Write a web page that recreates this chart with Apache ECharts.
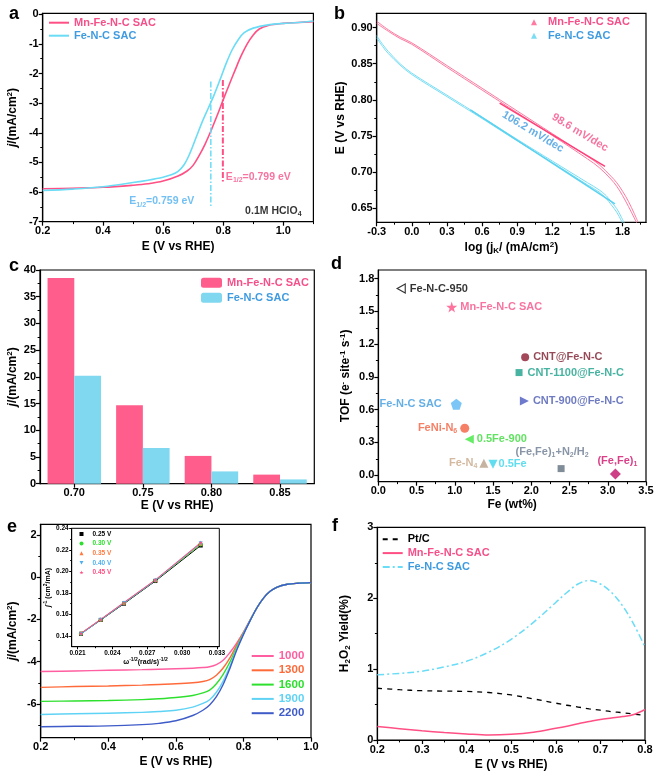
<!DOCTYPE html>
<html><head><meta charset="utf-8">
<script src="https://cdn.jsdelivr.net/npm/echarts@6.0.0/dist/echarts.min.js"></script>
<style>html,body{margin:0;padding:0;background:#fff}#c{width:661px;height:773px}</style>
</head><body><div id="c"></div>
<script>
// ================= DATA =================
// (a) LSV
const aEMn = [0.2,0.3,0.4,0.5,0.55,0.6,0.65,0.68,0.7,0.72,0.74,0.76,0.78,0.8,0.82,0.84,0.86,0.88,0.9,0.92,0.95,1.0,1.05,1.1];
const aMn  = [-5.89,-5.87,-5.84,-5.77,-5.72,-5.63,-5.46,-5.29,-5.1,-4.77,-4.38,-3.92,-3.42,-2.89,-2.38,-1.88,-1.4,-1.0,-0.7,-0.5,-0.38,-0.31,-0.28,-0.25];
const aEFe = [0.2,0.3,0.4,0.5,0.55,0.6,0.63,0.65,0.67,0.69,0.71,0.73,0.75,0.77,0.79,0.81,0.83,0.85,0.87,0.9,0.95,1.0,1.05,1.1];
const aFe  = [-5.95,-5.9,-5.82,-5.68,-5.6,-5.5,-5.41,-5.3,-5.08,-4.68,-4.16,-3.64,-3.18,-2.72,-2.2,-1.66,-1.2,-0.86,-0.62,-0.47,-0.36,-0.31,-0.28,-0.23];
const aYTicks = [-7,-6,-5,-4,-3,-2,-1,0];
const aHalfE   = [0.759, 0.799];
const aHalfTop = [-2.27, -2.22];
const aHalfBot = [-6.49, -5.68];
const aNoteX = [0.809, 0.488, 0.873];
const aNoteY = [-5.48, -6.32, -6.63];
const aNoteText = ['E{s|1/2}=0.799 eV', 'E{s|1/2}=0.759 eV', '0.1M HClO{s|4}'];
// (b) Tafel
const bLogMn = [-0.3,-0.2,-0.1,0,0.3,0.6,0.9,1.2,1.5,1.6,1.7,1.75,1.8,1.85,1.9,1.93];
const bEMnA  = [0.909,0.897,0.887,0.879,0.8475,0.816,0.7845,0.753,0.7215,0.710,0.694,0.685,0.673,0.659,0.642,0.631];
const bEMnB  = [0.906,0.895,0.885,0.877,0.845,0.8135,0.782,0.7505,0.718,0.706,0.690,0.680,0.667,0.652,0.636,0.626];
const bLogFe = [-0.3,-0.25,-0.2,-0.1,0,0.3,0.6,0.9,1.2,1.5,1.6,1.66,1.7,1.75,1.79,1.82];
const bEFeA  = [0.889,0.877,0.867,0.850,0.837,0.8064,0.776,0.745,0.715,0.685,0.675,0.667,0.659,0.649,0.637,0.627];
const bEFeB  = [0.886,0.874,0.864,0.848,0.835,0.8044,0.774,0.743,0.713,0.682,0.672,0.663,0.655,0.644,0.632,0.622];
const bFitMnX = [0.75, 1.65], bFitMnY = [0.7955, 0.7077];
const bFitFeX = [0.5, 1.735], bFitFeY = [0.786, 0.6555];
const bNoteX = [1.436, 1.035], bNoteY = [0.7545, 0.7555], bNoteText = ['98.6 mV/dec', '106.2 mV/dec'];
// (c) bars
const cE  = ['0.70','0.75','0.80','0.85'];
const cMn = [38.5, 14.7, 5.2, 1.7];
const cFe = [20.2, 6.7, 2.3, 0.8];
// (d) TOF
const dNames = ['Fe-N-C-950','Mn-Fe-N-C SAC','CNT@Fe-N-C','CNT-1100@Fe-N-C','CNT-900@Fe-N-C','Fe-N-C SAC','FeNi-N6','0.5Fe-900','Fe-N4','0.5Fe','(Fe,Fe)1+N2/H2','(Fe,Fe)1'];
const dLabels = ['Fe-N-C-950','Mn-Fe-N-C SAC','CNT@Fe-N-C','CNT-1100@Fe-N-C','CNT-900@Fe-N-C','Fe-N-C SAC','FeNi-N{s|6}','0.5Fe-900','Fe-N{s|4}','0.5Fe','(Fe,Fe){s|1}+N{s|2}/H{s|2}','(Fe,Fe){s|1}'];
const dFe  = [0.30, 0.96, 1.92, 1.84, 1.91, 1.02, 1.13, 1.19, 1.38, 1.50, 2.39, 3.10];
const dTOF = [1.71, 1.54, 1.08, 0.94, 0.68, 0.65, 0.43, 0.33, 0.11, 0.10, 0.06, 0.01];
// (e) RDE
const eE = [0.2,0.3,0.4,0.5,0.55,0.6,0.65,0.68,0.7,0.72,0.74,0.76,0.78,0.8,0.82,0.84,0.86,0.88,0.9,0.93,0.96,1.0];
const eRpm = ['1000','1300','1600','1900','2200'];
const eJ1000 = [-4.47,-4.44,-4.41,-4.38,-4.36,-4.34,-4.31,-4.28,-4.24,-4.14,-3.93,-3.57,-3.12,-2.6,-2.02,-1.45,-0.98,-0.66,-0.47,-0.34,-0.29,-0.26];
const eJ1300 = [-5.22,-5.18,-5.15,-5.11,-5.08,-5.05,-5.0,-4.94,-4.85,-4.64,-4.3,-3.82,-3.22,-2.63,-2.03,-1.45,-0.98,-0.66,-0.47,-0.34,-0.29,-0.26];
const eJ1600 = [-5.88,-5.86,-5.84,-5.8,-5.76,-5.7,-5.6,-5.48,-5.35,-5.05,-4.6,-4.02,-3.32,-2.66,-2.04,-1.45,-0.98,-0.66,-0.47,-0.34,-0.29,-0.26];
const eJ1900 = [-6.5,-6.47,-6.44,-6.4,-6.36,-6.3,-6.15,-5.98,-5.8,-5.45,-4.92,-4.22,-3.4,-2.69,-2.05,-1.45,-0.98,-0.66,-0.47,-0.34,-0.29,-0.26];
const eJ2200 = [-7.08,-7.06,-7.04,-6.98,-6.92,-6.8,-6.55,-6.3,-6.05,-5.66,-5.08,-4.32,-3.46,-2.72,-2.06,-1.45,-0.98,-0.66,-0.47,-0.34,-0.29,-0.26];
// (e inset) K-L
const kW = [0.0213, 0.0230, 0.0250, 0.0277, 0.0316];
const kV = ['0.25 V','0.30 V','0.35 V','0.40 V','0.45 V'];
const kJ025 = [0.1420, 0.1548, 0.1700, 0.1910, 0.2240];
const kJ030 = [0.1423, 0.1551, 0.1705, 0.1915, 0.2250];
const kJ035 = [0.1424, 0.1553, 0.1708, 0.1918, 0.2258];
const kJ040 = [0.1418, 0.1550, 0.1706, 0.1916, 0.2262];
const kJ045 = [0.1425, 0.1555, 0.1712, 0.1922, 0.2268];
// (f) H2O2 yield
const fE   = [0.2,0.25,0.3,0.35,0.4,0.45,0.5,0.55,0.6,0.625,0.65,0.675,0.7,0.725,0.75,0.775,0.8];
const fPt  = [0.73,0.71,0.695,0.69,0.685,0.67,0.635,0.58,0.52,0.49,0.465,0.44,0.42,0.40,0.385,0.365,0.345];
const fMn  = [0.19,0.16,0.13,0.105,0.085,0.07,0.08,0.11,0.165,0.195,0.23,0.26,0.29,0.31,0.33,0.36,0.43];
const fFe  = [0.92,0.94,0.97,1.03,1.11,1.24,1.42,1.66,1.94,2.08,2.2,2.25,2.2,2.08,1.89,1.63,1.31];

// ================= STYLE =================
const FONT = '"Liberation Sans", Arial, sans-serif';
const PINK = '#FF4F84', CYAN = '#6ADCF5', MN_TXT = '#F5508A', FE_TXT = '#3F9BE0';
const BAR_PINK = '#FF5E8C', BAR_CYAN = '#7FD8F0';
const E_COL = ['#FF5EA0','#FF6A3A','#2EE02E','#5FD3F5','#3F5BC8'];
const K_COL = ['#000000','#2EE02E','#FF7A40','#4FB0F0','#FF4F84'];
const K_SYM = ['rect','circle','triangle','path://M0,0 L10,0 L5,9 Z','path://M50,0 L61,35 L98,35 L68,57 L79,91 L50,70 L21,91 L32,57 L2,35 L39,35 Z'];
const STAR = 'path://M50,0 L61,35 L98,35 L68,57 L79,91 L50,70 L21,91 L32,57 L2,35 L39,35 Z';
const PENT = 'path://M50,0 L98,35 L79,91 L21,91 L2,35 Z';
const LTRI = 'path://M10,0 L0,5 L10,10 Z';
const dStyle = {
  'Fe-N-C-950':      {sym:LTRI, size:[8,9], color:'#fff', border:'#000', txt:'#000', pos:'right', dist:4},
  'Mn-Fe-N-C SAC':   {sym:STAR, size:11, color:'#FF4F84', txt:'#F5508A', pos:'right', dist:3},
  'CNT@Fe-N-C':      {sym:'circle', size:8, color:'#8C1C30', txt:'#7A1A2A', pos:'right', dist:4},
  'CNT-1100@Fe-N-C': {sym:'rect', size:7, color:'#1AA08A', txt:'#1AA08A', pos:'right', dist:5},
  'CNT-900@Fe-N-C':  {sym:'triangle', size:9, rot:-90, color:'#4A5AC0', txt:'#4A5AB0', pos:'right', dist:4},
  'Fe-N-C SAC':      {sym:PENT, size:11, color:'#5AB8F5', txt:'#3F9BE0', pos:'left', dist:9},
  'FeNi-N6':         {sym:'circle', size:9, color:'#F26040', txt:'#F26040', pos:'left', dist:3},
  '0.5Fe-900':       {sym:'triangle', size:9, rot:90, color:'#3EE83E', txt:'#3ADB3A', pos:'right', dist:3},
  'Fe-N4':           {sym:'triangle', size:9, color:'#B8A088', txt:'#C8A888', pos:'left', dist:2},
  '0.5Fe':           {sym:'triangle', size:9, rot:180, color:'#38D4EA', txt:'#38D4EA', pos:'right', dist:1},
  '(Fe,Fe)1+N2/H2':  {sym:'rect', size:7, color:'#607080', txt:'#6A7A90', pos:'top', dist:7, off:[-9,0]},
  '(Fe,Fe)1':        {sym:'diamond', size:11, color:'#C0106A', txt:'#D0106A', pos:'top', dist:1, off:[2,0]}
};

function pts(xs, ys) { return xs.map((x, i) => [x, ys[i]]); }
function fmt(v, d) { let s = Number(v).toFixed(d); if (/^-0(\.0+)?$/.test(s)) s = s.slice(1); return s; }
function richFor(color, fs, sfs) {
  return {
    s:   {fontSize:sfs, fontWeight:'bold', color, verticalAlign:'bottom', lineHeight:sfs, fontFamily:FONT},
    sup: {fontSize:sfs, fontWeight:'bold', color, verticalAlign:'top', lineHeight:sfs, fontFamily:FONT},
    i:   {fontSize:fs, fontWeight:'bold', fontStyle:'italic', color, lineHeight:fs+2, fontFamily:FONT}
  };
}
const RICHN = richFor('#000', 12, 8);
const RICHS = richFor('#000', 7, 5);

const xAxes = [], yAxes = [];
function addAxis(list, pos, grid, min, max, majors, minors, dec, name, gap, o) {
  o = o || {};
  const fs = o.fs || 11, nfs = o.nfs || 12, tl = o.tl || 4, lw = o.lw || 1.2;
  list.push({
    type:'value', gridIndex:grid, min, max, position:pos,
    name, nameLocation:'middle', nameGap:gap,
    nameTextStyle:{fontSize:nfs, fontWeight:'bold', color:'#000', lineHeight:nfs+2, fontFamily:FONT, rich:o.rich || RICHN},
    axisLine:{show:true, onZero:false, lineStyle:{color:'#000', width:lw}},
    axisTick:{show:true, customValues:majors, length:tl, lineStyle:{color:'#000', width:lw}},
    axisLabel:{show:true, customValues:o.labels || majors, showMinLabel:true, showMaxLabel:true, formatter:(v) => fmt(v, dec), fontSize:fs, fontWeight:'bold', color:'#000', margin:o.margin || 4, fontFamily:FONT},
    splitLine:{show:false}
  });
  const idx = list.length - 1;
  list.push({type:'value', gridIndex:grid, min, max, position:pos,
    axisLine:{show:false, onZero:false},
    axisTick:{show:true, customValues:minors, length:tl * 0.6, lineStyle:{color:'#000', width:1}},
    axisLabel:{show:false}, splitLine:{show:false}});
  return idx;
}

const gridBoxes = [
  {left:42.7, top:13.3, width:270.7, height:208.4},
  {left:376.7, top:13.3, width:269.3, height:209},
  {left:40, top:270, width:274.3, height:213.7},
  {left:378.3, top:270, width:267.7, height:211.7},
  {left:40.7, top:524.3, width:270.3, height:213.4},
  {left:71.7, top:528.3, width:147.6, height:118.4},
  {left:377.3, top:527.3, width:267.7, height:213}
];
const grids = gridBoxes.map(g => Object.assign({show:true, borderColor:'#000', borderWidth:1.2, backgroundColor:'transparent', containLabel:false}, g));
grids[5].borderWidth = 1; grids[5].backgroundColor = '#fff';

// axes
const aYMin = -7, aYMax = 0.03;
const ax = addAxis(xAxes, 'bottom', 0, 0.2, 1.1, [0.2,0.4,0.6,0.8,1.0], [0.3,0.5,0.7,0.9,1.1], 1, 'E (V vs RHE)', 18);
const ay = addAxis(yAxes, 'left', 0, aYMin, aYMax, aYTicks, [-6.5,-5.5,-4.5,-3.5,-2.5,-1.5,-0.5], 0, '{i|j}/(mA/cm{sup|2})', 23, {labels:aYTicks.slice(0, -1)});
const bx = addAxis(xAxes, 'bottom', 1, -0.3, 2.0, [-0.3,0,0.3,0.6,0.9,1.2,1.5,1.8], [-0.15,0.15,0.45,0.75,1.05,1.35,1.65,1.95], 1, 'log (j{s|K}/ (mA/cm{sup|2})', 18);
const by = addAxis(yAxes, 'left', 1, 0.63, 0.92, [0.65,0.70,0.75,0.80,0.85,0.90], [0.675,0.725,0.775,0.825,0.875], 2, 'E (V vs RHE)', 26);
xAxes.push({type:'category', gridIndex:2, data:cE, position:'bottom',
  axisLine:{show:true, lineStyle:{color:'#000', width:1.2}},
  axisTick:{show:true, alignWithLabel:true, length:4, lineStyle:{color:'#000', width:1.2}},
  axisLabel:{fontSize:11, fontWeight:'bold', color:'#000', margin:4, fontFamily:FONT},
  name:'E (V vs RHE)', nameLocation:'middle', nameGap:15,
  nameTextStyle:{fontSize:12, fontWeight:'bold', color:'#000', fontFamily:FONT}});
const cx = xAxes.length - 1;
const cy = addAxis(yAxes, 'left', 2, 0, 40, [0,5,10,15,20,25,30,35,40], [2.5,7.5,12.5,17.5,22.5,27.5,32.5,37.5], 0, '{i|j}/(mA/cm{sup|2})', 20);
const dx = addAxis(xAxes, 'bottom', 3, 0, 3.5, [0,0.5,1,1.5,2,2.5,3,3.5], [0.25,0.75,1.25,1.75,2.25,2.75,3.25], 1, 'Fe (wt%)', 15);
const dy = addAxis(yAxes, 'left', 3, -0.06, 1.88, [0,0.3,0.6,0.9,1.2,1.5,1.8], [0.15,0.45,0.75,1.05,1.35,1.65], 1, 'TOF (e{sup|-} site{sup|-1} s{sup|-1})', 26);
const ex = addAxis(xAxes, 'bottom', 4, 0.2, 1.0, [0.2,0.4,0.6,0.8,1.0], [0.3,0.5,0.7,0.9], 1, 'E (V vs RHE)', 17);
const ey = addAxis(yAxes, 'left', 4, -7.6, 2.5, [-6,-4,-2,0,2], [-7,-5,-3,-1,1], 0, '{i|j}/(mA/cm{sup|2})', 21);
const kx = addAxis(xAxes, 'bottom', 5, 0.0205, 0.0332, [0.021,0.024,0.027,0.030,0.033], [0.0225,0.0255,0.0285,0.0315], 3, 'ω{sup|-1/2}(rad/s){sup|-1/2}', 9, {fs:6.5, nfs:7, tl:2.5, lw:1, margin:3, rich:RICHS});
const ky = addAxis(yAxes, 'left', 5, 0.13, 0.24, [0.14,0.16,0.18,0.20,0.22,0.24], [0.15,0.17,0.19,0.21,0.23], 2, '{i|j}{sup|-1} (cm{sup|2}/mA)', 19, {fs:6.5, nfs:7, tl:2.5, lw:1, margin:3, rich:RICHS});
const fx = addAxis(xAxes, 'bottom', 6, 0.2, 0.8, [0.2,0.3,0.4,0.5,0.6,0.7,0.8], [0.25,0.35,0.45,0.55,0.65,0.75], 1, 'E (V vs RHE)', 18);
const fy = addAxis(yAxes, 'left', 6, 0, 3, [0,1,2,3], [0.5,1.5,2.5], 0, 'H{s|2}O{s|2} Yield(%)', 26);

function line(name, xi, yi, data, color, width, type, extra) {
  return Object.assign({type:'line', name, xAxisIndex:xi, yAxisIndex:yi, data, symbol:'none', showSymbol:false,
    smooth:0.35, lineStyle:{color, width, type:type || 'solid'}, itemStyle:{color}, z:3}, extra || {});
}
function notes(xi, yi, xs, ys, texts, colors, fs, extraLabel) {
  return {type:'scatter', xAxisIndex:xi, yAxisIndex:yi, symbolSize:0, silent:true, z:5, clip:false,
    data: xs.map((x, i) => ({value:[x, ys[i]], label:Object.assign({show:true, position:'right', distance:0,
      formatter:texts[i], color:colors[i], fontSize:fs, fontWeight:'bold', fontFamily:FONT, lineHeight:fs+3,
      rich:richFor(colors[i], fs, Math.round(fs*0.65))}, extraLabel || {})}))};
}

const series = [];
// (a)
series.push(line('a:Mn-Fe-N-C SAC', ax, ay, pts(aEMn, aMn), PINK, 1.6));
series.push(line('a:Fe-N-C SAC', ax, ay, pts(aEFe, aFe), CYAN, 1.6));
series.push(line('a-half-fe', ax, ay, [[aHalfE[0], aHalfTop[0]], [aHalfE[0], aHalfBot[0]]], CYAN, 1.5, [6,2,1.5,2], {smooth:false}));
series.push(line('a-half-mn', ax, ay, [[aHalfE[1], aHalfTop[1]], [aHalfE[1], aHalfBot[1]]], PINK, 2, [6,2,1.5,2], {smooth:false}));
series.push(notes(ax, ay, aNoteX, aNoteY, aNoteText, [MN_TXT, '#4FB0F0', '#000'], 10.5));
// (b)
series.push(line('b:Mn-Fe-N-C SAC', bx, by, pts(bLogMn, bEMnA), '#FF7AA0', 1));
series.push(line('b-mn2', bx, by, pts(bLogMn, bEMnB), '#FF7AA0', 1));
series.push(line('b:Fe-N-C SAC', bx, by, pts(bLogFe, bEFeA), '#7ADDF3', 1));
series.push(line('b-fe2', bx, by, pts(bLogFe, bEFeB), '#7ADDF3', 1));
series.push(line('b-fitmn', bx, by, pts(bFitMnX, bFitMnY), '#FF3F78', 1.5, 'solid', {smooth:false}));
series.push(line('b-fitfe', bx, by, pts(bFitFeX, bFitFeY), '#5AD2F0', 1.5, 'solid', {smooth:false}));
series.push(notes(bx, by, bNoteX, bNoteY, bNoteText, [MN_TXT, FE_TXT], 11, {position:'inside', rotate:-31}));
// (c)
series.push({type:'bar', name:'c:Mn-Fe-N-C SAC', xAxisIndex:cx, yAxisIndex:cy, data:cMn, itemStyle:{color:BAR_PINK}, barGap:'0%', barCategoryGap:'22%'});
series.push({type:'bar', name:'c:Fe-N-C SAC', xAxisIndex:cx, yAxisIndex:cy, data:cFe, itemStyle:{color:BAR_CYAN}, barGap:'0%', barCategoryGap:'22%'});
// (d)
series.push({type:'scatter', name:'d', xAxisIndex:dx, yAxisIndex:dy, z:4,
  data: dNames.map((n, i) => {
    const s = dStyle[n];
    return {value:[dFe[i], dTOF[i]], symbol:s.sym, symbolSize:s.size, symbolRotate:s.rot || 0,
      itemStyle:{color:s.color, borderColor:s.border || s.color, borderWidth:s.border ? 1.2 : 0},
      label:{show:true, position:s.pos, distance:s.dist, offset:s.off || [0,0], formatter:dLabels[i],
        color:s.txt, fontSize:11, fontWeight:'bold', fontFamily:FONT, lineHeight:13, rich:richFor(s.txt, 11, 7)}};
  })});
// (e)
const eData = [eJ1000, eJ1300, eJ1600, eJ1900, eJ2200];
eData.forEach((d, i) => series.push(line('e:' + eRpm[i], ex, ey, pts(eE, d), E_COL[i], 1.4)));
// (e inset)
const kData = [kJ025, kJ030, kJ035, kJ040, kJ045];
kData.forEach((d, i) => series.push({type:'line', name:'k:' + kV[i], xAxisIndex:kx, yAxisIndex:ky, data:pts(kW, d),
  symbol:K_SYM[i], symbolSize:4, showSymbol:true, lineStyle:{color:K_COL[i], width:1}, itemStyle:{color:K_COL[i]}, z:6}));
// (f)
series.push(line('f:Pt/C', fx, fy, pts(fE, fPt), '#000', 1.3, [5,5]));
series.push(line('f:Mn-Fe-N-C SAC', fx, fy, pts(fE, fMn), PINK, 1.5));
series.push(line('f:Fe-N-C SAC', fx, fy, pts(fE, fFe), CYAN, 1.5, [7,3,2,3]));

const strip = (n) => n.slice(n.indexOf(':') + 1);
const legBase = {orient:'vertical', padding:0, selectedMode:false, formatter:strip,
  textStyle:{fontSize:11, fontWeight:'bold', fontFamily:FONT, lineHeight:12}};
const noSym = {itemStyle:{opacity:0, borderWidth:0}};
const legends = [
  Object.assign({}, legBase, noSym, {left:48, top:16.7, itemWidth:20, itemHeight:8, itemGap:1,
    data:[{name:'a:Mn-Fe-N-C SAC', textStyle:{color:MN_TXT}}, {name:'a:Fe-N-C SAC', textStyle:{color:FE_TXT}}]}),
  Object.assign({}, legBase, {left:531, top:16.3, itemWidth:6, itemHeight:6, itemGap:1.4, icon:'triangle',
    textStyle:Object.assign({}, legBase.textStyle, {padding:[0,0,0,6]}),
    data:[{name:'b:Mn-Fe-N-C SAC', textStyle:{color:MN_TXT}}, {name:'b:Fe-N-C SAC', textStyle:{color:FE_TXT}}]}),
  Object.assign({}, legBase, {left:201, top:276.7, itemWidth:21, itemHeight:10, itemGap:3,
    data:[{name:'c:Mn-Fe-N-C SAC', textStyle:{color:MN_TXT}}, {name:'c:Fe-N-C SAC', textStyle:{color:FE_TXT}}]}),
  Object.assign({}, legBase, noSym, {left:250.7, top:649.5, itemWidth:22, itemHeight:8, itemGap:1.3,
    textStyle:Object.assign({}, legBase.textStyle, {fontSize:11.5, lineHeight:13}),
    data:eRpm.map((r, i) => ({name:'e:' + r, textStyle:{color:E_COL[i]}}))}),
  Object.assign({}, legBase, {left:79.5, top:530, itemWidth:4, itemHeight:4, itemGap:1.6,
    textStyle:{fontSize:6.5, fontWeight:'bold', fontFamily:FONT, lineHeight:8, padding:[0,0,0,4]},
    data:kV.map((v, i) => ({name:'k:' + v, icon:K_SYM[i], textStyle:{color:K_COL[i]}}))}),
  Object.assign({}, legBase, noSym, {left:381.7, top:533.3, itemWidth:20, itemHeight:8, itemGap:1.8,
    data:[{name:'f:Pt/C', textStyle:{color:'#000'}}, {name:'f:Mn-Fe-N-C SAC', textStyle:{color:MN_TXT}}, {name:'f:Fe-N-C SAC', textStyle:{color:FE_TXT}}]})
];

// top tick label of the (a) y axis: position from the grid box and the axis range
const aTop = aYTicks[aYTicks.length - 1];
const aLblY = gridBoxes[0].top + (aYMax - aTop) / (aYMax - aYMin) * gridBoxes[0].height;
const letters = [['a',9,23.5],['b',334,23.5],['c',9,275],['d',331,273.5],['e',7,536],['f',332,535]];
const graphic = letters.map(([t, x, y]) => ({type:'text', x, y, z:10,
  style:{text:t, fill:'#000', font:'bold 18px ' + FONT, verticalAlign:'bottom'}}));
graphic.push({type:'text', x:gridBoxes[0].left - 4, y:aLblY, z:200, zlevel:0,
  style:{text:fmt(aTop, 0), fill:'#000', font:'bold 11px ' + FONT, align:'right', verticalAlign:'middle'}});

const chart = echarts.init(document.getElementById('c'), null, {renderer:'canvas'});
chart.setOption({animation:false, backgroundColor:'#fff', textStyle:{fontFamily:FONT},
  grid:grids, xAxis:xAxes, yAxis:yAxes, legend:legends, series, graphic});
</script></body></html>
